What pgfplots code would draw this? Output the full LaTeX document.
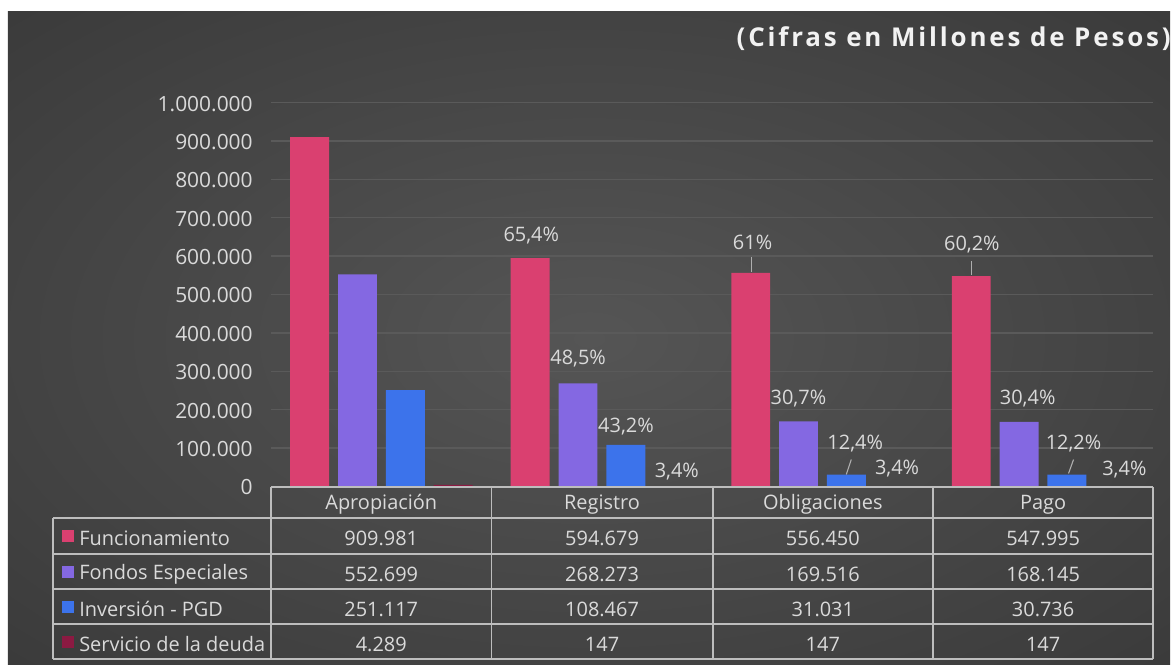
\documentclass[border=0pt]{standalone}
\usepackage{fontspec}
\setmainfont{Open Sans}
\usepackage{pgfplots}
\usepackage{pgfplotstable}
\pgfplotsset{compat=1.18}
\definecolor{cF}{HTML}{DA4070}
\definecolor{cE}{HTML}{8468E2}
\definecolor{cI}{HTML}{3C73EB}
\definecolor{cS}{HTML}{8C1A42}
\definecolor{txt}{HTML}{DADADA}
\definecolor{gridc}{HTML}{5A5A5A}
\definecolor{tline}{HTML}{BDBDBD}
\definecolor{bgin}{HTML}{555555}
\definecolor{bgout}{HTML}{303030}
\definecolor{bgout2}{HTML}{262626}
\pgfdeclareradialshading{bgshade}{\pgfpoint{0bp}{0bp}}{color(0bp)=(bgin); color(50bp)=(bgout); color(72bp)=(bgout2)}
\pgfplotstableread{
x F E I S
0 909981 552699 251117 4289
1 594679 268273 108467 147
2 556450 169516 31031 147
3 547995 168145 30736 147
}\datatab
\newcommand{\fs}{\fontsize{20}{23}\selectfont}
\newcommand{\ft}{\fontsize{21}{24}\selectfont}
\begin{document}
\begin{tikzpicture}[x=1pt,y=1pt]
\fill[white] (0,0) rectangle (1174,-667);
\shade[shading=bgshade] (8,-12) rectangle (1174,-667);
\node[anchor=east, text=white!95!black, font=\fontsize{26}{29}\selectfont\bfseries\addfontfeatures{LetterSpace=11}] at (1178,-39) {(Cifras en Millones de Pesos)};
\begin{axis}[at={(272pt,-488pt)}, anchor=south west, scale only axis,
  width=885pt, height=385pt,
  xmin=-0.5, xmax=3.5, ymin=0, ymax=1000000,
  axis line style={draw=none}, major tick length=0pt,
  xtick=\empty,
  ytick={0,100000,200000,300000,400000,500000,600000,700000,800000,900000,1000000},
  yticklabels={0,100.000,200.000,300.000,400.000,500.000,600.000,700.000,800.000,900.000,1.000.000},
  scaled y ticks=false,
  ymajorgrids, grid style={gridc, line width=1.4pt},
  yticklabel style={font=\ft, text=txt, xshift=-15pt, yshift=-1pt},
  ybar=9pt, bar width=39pt, clip=false]
\addplot[fill=cF, draw=none] table[x=x,y=F]{\datatab};
\addplot[fill=cE, draw=none] table[x=x,y=E]{\datatab};
\addplot[fill=cI, draw=none] table[x=x,y=I]{\datatab};
\addplot[fill=cS, draw=none] table[x=x,y=S]{\datatab};
\end{axis}
% data labels
\begin{scope}[every node/.style={text=txt, font=\fs, yshift=-1.5pt}]
\node at (533,-235) {65,4\%};
\node at (580,-358) {48,5\%};
\node at (628,-426) {43,2\%};
\node at (679,-472) {3,4\%};
\node at (755,-242) {61\%};
\node at (801,-398) {30,7\%};
\node at (858,-443) {12,4\%};
\node at (900,-469) {3,4\%};
\node at (975,-244) {60,2\%};
\node at (1031,-398) {30,4\%};
\node at (1077,-443) {12,2\%};
\node at (1128,-470) {3,4\%};
\end{scope}
\begin{scope}[draw=txt!80!black, line width=1.1pt]
\draw (754,-258) -- (754,-273);
\draw (975,-262) -- (975,-276);
\draw (854,-461) -- (849,-476);
\draw (1077,-461) -- (1072,-475);
\end{scope}
% table
\begin{scope}[draw=tline, line width=1.7pt]
\draw (272,-488.6) -- (1157,-488.6);
\foreach \y in {520,556,591,626,661} \draw (53,-\y) -- (1157,-\y);
\draw (53,-520) -- (53,-661);
\foreach \x in {272,493,715,936,1157} \draw (\x,-488.6) -- (\x,-661);
\end{scope}
\begin{scope}[every node/.style={text=txt, font=\fs, yshift=-2pt}]
\node at (382.5,-504) {Apropiación};
\node at (604,-504) {Registro};
\node at (825.5,-504) {Obligaciones};
\node at (1046.5,-504) {Pago};
\fill[cF] (62,-532) rectangle (74,-544);
\fill[cE] (62,-568) rectangle (74,-580);
\fill[cI] (62,-603) rectangle (74,-615);
\fill[cS] (62,-638) rectangle (74,-650);
\node[anchor=west] at (76,-538) {Funcionamiento};
\node[anchor=west] at (76,-574) {Fondos Especiales};
\node[anchor=west] at (76,-609) {Inversión - PGD};
\node[anchor=west] at (76,-644) {Servicio de la deuda};
\node at (382.5,-538) {909.981};
\node at (604,-538) {594.679};
\node at (825.5,-538) {556.450};
\node at (1046.5,-538) {547.995};
\node at (382.5,-574) {552.699};
\node at (604,-574) {268.273};
\node at (825.5,-574) {169.516};
\node at (1046.5,-574) {168.145};
\node at (382.5,-609) {251.117};
\node at (604,-609) {108.467};
\node at (825.5,-609) {31.031};
\node at (1046.5,-609) {30.736};
\node at (382.5,-644) {4.289};
\node at (604,-644) {147};
\node at (825.5,-644) {147};
\node at (1046.5,-644) {147};
\end{scope}
\end{tikzpicture}
\end{document}
